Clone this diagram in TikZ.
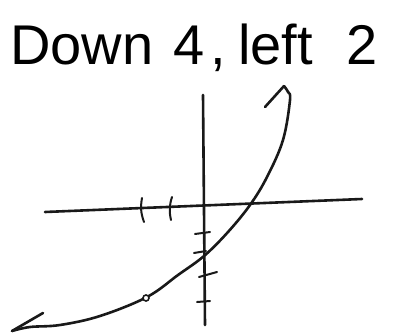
\documentclass[tikz,border=0pt]{standalone}
\usepackage{fontspec}
\setmainfont{Liberation Sans}
\begin{document}
\begin{tikzpicture}[x=1pt,y=-1pt,
  pen/.style={line width=2.6pt,draw=black!90,line cap=round,line join=round},
  tickmark/.style={line width=2pt,draw=black!90,line cap=round},
  title/.style={anchor=base west,inner sep=0pt,font=\fontsize{56}{60}\selectfont}]
\useasboundingbox (0,0) rectangle (393,332);
% title
\node[title] (t) at (10,64) {Down\hspace{20pt}4\hspace{6pt},\hspace{12pt}left\hspace{34pt}2};
% axes
\coordinate (ytop) at (203,95);
\coordinate (ybot) at (205,325);
\coordinate (xl) at (45,212);
\coordinate (xr) at (362,199);
\draw[pen] (ytop) -- (ybot);
\draw[pen] (xl) -- (xr);
% x ticks
\coordinate (a1) at (142,198); \coordinate (a2) at (144,222);
\coordinate (b1) at (172,197); \coordinate (b2) at (171,220);
\draw[tickmark] (a1) to[bend right=15] (a2);
\draw[tickmark] (b1) to[bend right=15] (b2);
% y ticks
\coordinate (c1) at (195,234); \coordinate (c2) at (210,232);
\coordinate (d1) at (194,253); \coordinate (d2) at (206,251);
\coordinate (e1) at (199,277); \coordinate (e2) at (217,272);
\coordinate (f1) at (197,302); \coordinate (f2) at (210,301);
\draw[tickmark] (c1) -- (c2);
\draw[tickmark] (d1) -- (d2);
\draw[tickmark] (e1) -- (e2);
\draw[tickmark] (f1) -- (f2);
% curve
\coordinate (tipL) at (12,331);
\coordinate (tipR) at (284,86);
\coordinate (barbL) at (43,313);
\coordinate (barbR) at (265,107);
\draw[pen] plot[smooth,tension=0.6] coordinates {(12,331) (30,327) (60,325) (100,316) (147,297) (178,275) (204,256) (228,232) (250,205) (267,177) (283,140) (290,100) (288,92) (284,86)};
\draw[pen] (tipL) -- (barbL);
\draw[pen] (tipR) -- (barbR);
\node[circle,draw=black!90,line width=1.6pt,fill=white,inner sep=0pt,minimum size=6pt] (pt) at (146,298) {};
\end{tikzpicture}
\end{document}
